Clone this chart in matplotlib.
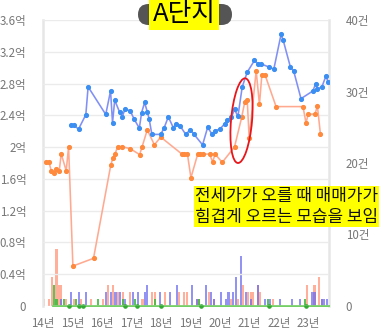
import matplotlib
matplotlib.use("Agg")
import matplotlib.pyplot as plt
import matplotlib.patches as mpatches
import matplotlib.transforms as mtransforms

plt.rcParams['font.family'] = ['Noto Sans CJK KR', 'DejaVu Sans']

# ---- data ----
sale_years = [2014.946, 2015.037, 2015.206, 2015.453, 2015.530, 2016.128, 2016.291, 2016.358,
              2016.432, 2016.601, 2016.686, 2016.780, 2016.956, 2017.091, 2017.267, 2017.345,
              2017.446, 2017.537, 2017.598, 2017.693, 2017.993, 2018.111, 2018.250, 2018.426,
              2018.503, 2018.655, 2018.841, 2018.990, 2019.125, 2019.412, 2019.584, 2019.736,
              2019.831, 2020.000, 2020.166, 2020.250, 2020.385, 2020.497, 2020.611, 2020.757,
              2020.926, 2021.172, 2021.307, 2021.389, 2021.652, 2021.828, 2022.074, 2022.149,
              2022.389, 2022.503, 2022.750, 2023.155, 2023.247, 2023.301, 2023.459, 2023.595,
              2023.672]
sale_price = [2.277, 2.277, 2.227, 2.409, 2.759, 2.411, 2.708, 2.306,
              2.591, 2.437, 2.384, 2.474, 2.459, 2.352, 2.239, 2.434,
              2.562, 2.444, 2.359, 2.160, 2.160, 2.245, 2.381, 2.239,
              2.296, 2.264, 2.160, 2.218, 2.160, 2.028, 2.249, 2.161,
              2.208, 2.226, 2.296, 2.340, 2.374, 2.474, 2.386, 2.759,
              2.943, 3.091, 3.044, 3.048, 3.010, 2.981, 3.418, 3.342,
              3.010, 2.956, 2.610, 2.707, 2.799, 2.732, 2.759, 2.893,
              2.818]

jeonse_years = [2014.118, 2014.203, 2014.280, 2014.361, 2014.449, 2014.551, 2014.618, 2014.787,
                2014.868, 2015.014, 2015.713, 2016.297, 2016.365, 2016.443, 2016.534, 2016.693,
                2016.956, 2017.277, 2017.361, 2017.537, 2017.777, 2017.993, 2018.713, 2018.797,
                2018.899, 2019.017, 2019.247, 2019.338, 2019.439, 2019.652, 2019.753, 2019.834,
                2020.081, 2020.497, 2020.740, 2020.841, 2020.926, 2020.993, 2021.230, 2021.341,
                2021.422, 2021.534, 2021.905, 2022.818, 2022.919, 2022.997, 2023.223, 2023.307,
                2023.409]
jeonse_price = [1.808, 1.808, 1.702, 1.669, 1.720, 1.702, 1.916, 1.702,
                2.004, 0.503, 0.600, 1.770, 1.858, 1.916, 2.004, 2.004,
                1.981, 1.906, 2.004, 2.218, 2.029, 2.126, 1.912, 1.912,
                1.912, 1.614, 1.912, 1.912, 1.912, 1.912, 1.811, 1.912,
                1.808, 2.004, 2.377, 2.566, 2.598, 2.110, 2.960, 2.537,
                2.906, 2.906, 2.510, 2.510, 2.306, 2.415, 2.415, 2.516,
                2.164]

# monthly transaction counts (month index from Jan 2014)
jeonse_vol_month = [0, 2, 3, 5, 6, 7, 9, 12, 15, 19, 24, 26, 28, 30, 32, 35, 40, 44, 45, 49,
                    55, 57, 58, 62, 63, 67, 69, 76, 79, 81, 83, 84, 85, 87, 88, 93, 107, 110,
                    112, 113]
jeonse_vol = [1, 1, 4, 8, 3, 3, 1, 1, 1, 1, 1, 3, 3, 2, 2, 2, 1, 2, 2, 2,
              2, 2, 2, 1, 1, 2, 1, 1, 1, 3, 2, 2, 2, 3, 2, 1, 3, 3,
              4, 1]
sale_vol_month = [7, 11, 14, 17, 25, 27, 29, 31, 33, 36, 38, 41, 42, 47, 51, 54, 60, 62, 66, 68,
                  69, 72, 74, 75, 77, 78, 80, 82, 84, 87, 90, 92, 96, 101, 104, 109, 110, 113,
                  114, 115]
sale_vol = [1, 2, 2, 2, 2, 2, 2, 2, 1, 2, 2, 2, 3, 2, 2, 3, 3, 1, 3, 2,
            1, 2, 1, 2, 2, 4, 7, 2, 1, 3, 1, 1, 1, 1, 1, 2, 2, 1,
            1, 1]
other_vol_month = [4, 5, 8, 13, 22, 32, 37, 45, 63, 91, 106]
other_vol = [3, 1, 1, 1, 1, 1, 1, 1, 1, 1, 1]
other_dot_years = [2014.87, 2015.21, 2015.35, 2016.78, 2017.18, 2018.0, 2019.35, 2021.65, 2022.92]
other_line_span = [2014.35, 2023.70]

year_ticks = list(range(2014, 2024))
year_labels = ['14년', '15년', '16년', '17년', '18년', '19년', '20년', '21년', '22년', '23년']
price_ticks = [0, 0.4, 0.8, 1.2, 1.6, 2.0, 2.4, 2.8, 3.2, 3.6]
price_labels = ['0', '0.4억', '0.8억', '1.2억', '1.6억', '2억', '2.4억', '2.8억', '3.2억', '3.6억']
count_ticks = [0, 10, 20, 30, 40]
count_labels = ['0', '10건', '20건', '30건', '40건']

title = 'A단지'
note = '전세가가 오를 때 매매가가\n힘겹게 오르는 모습을 보임'
ellipse_center = (2020.733, 2.333)

# ---- figure ----
fig = plt.figure(figsize=(3.83, 3.35), dpi=100)
W, H = 383, 335
ax = fig.add_axes([43 / W, 1 - 306 / H, 286 / W, 286 / H])   # counts (bars)
ax2 = ax.twinx()                                              # prices (lines)

def mx(m):
    return 2014 + (m + 0.5) / 12

bw = 0.07
ax.bar([mx(m) for m in jeonse_vol_month], jeonse_vol, width=bw, color='#FF9478', alpha=0.75, zorder=2)
ax.bar([mx(m) for m in sale_vol_month], sale_vol, width=bw, color='#6565F0', alpha=0.7, zorder=3)
ax.bar([mx(m) for m in other_vol_month], other_vol, width=bw, color='#3DBA3D', alpha=0.85, zorder=4)
ax.plot(other_line_span, [0, 0], color='#66CC55', lw=1.3, zorder=5, clip_on=False)
ax.plot(other_dot_years, [0] * len(other_dot_years), 'o', color='#33AA33', ms=2.3, zorder=6, clip_on=False)

ax.set_xlim(2014.0, 2023.70)
ax.set_ylim(0, 40)
ax.yaxis.tick_right()
ax.set_yticks(count_ticks)
ax.set_yticklabels(count_labels)
ax.set_xticks(year_ticks)
ax.set_xticklabels(year_labels)

ax2.plot(jeonse_years, jeonse_price, '-', color='#FFAA90', lw=1.15, zorder=3)
ax2.plot(jeonse_years, jeonse_price, 'o', color='#FF8A3D', ms=2.7, zorder=4)
ax2.plot(sale_years, sale_price, '-', color='#8090F5', lw=1.15, zorder=5)
ax2.plot(sale_years, sale_price, 'o', color='#3B8EF2', ms=2.7, zorder=6)
ax2.set_ylim(0, 3.6)
ax2.yaxis.tick_left()
ax2.set_yticks(price_ticks)
ax2.set_yticklabels(price_labels)
ax2.grid(axis='y', color='#EBEBEB', lw=1.0)
ax2.set_axisbelow(True)

for a in (ax, ax2):
    for s in a.spines.values():
        s.set_visible(False)
ax.spines['left'].set_visible(True)
ax.spines['right'].set_visible(True)
ax.spines['left'].set_color('#E6E6E6')
ax.spines['right'].set_color('#E6E6E6')
ax.spines['left'].set_linewidth(1.8)
ax.spines['right'].set_linewidth(1.8)

ax.tick_params(axis='x', length=0, pad=8, labelsize=8.3, labelcolor='#777777')
ax.tick_params(axis='y', length=0, pad=12, labelsize=8.3, labelcolor='#777777')
ax2.tick_params(axis='y', length=0, pad=12, labelsize=8.3, labelcolor='#777777')

# red ellipse (annotation), sized in inches around a data point
trans = fig.dpi_scale_trans + mtransforms.ScaledTranslation(ellipse_center[0], ellipse_center[1], ax2.transData)
ax2.add_patch(mpatches.Ellipse((0, 0), 0.21, 0.85, angle=-5, fill=False, ec='#E8161B', lw=1.3,
                               transform=trans, zorder=7, clip_on=False))

# note text
ax2.text(2019.15, 1.25, note, ha='left', va='center', fontsize=12.2, color='#111111',
         linespacing=1.2, clip_on=False, zorder=10,
         bbox=dict(boxstyle='square,pad=0.05', fc='#FFFF00', ec='none'))

# title tab
tab = mpatches.FancyBboxPatch((138, H - 25), 94, 21, boxstyle='round,pad=0,rounding_size=10.5',
                              transform=mtransforms.IdentityTransform(), fc='#555555', ec='none',
                              zorder=1)
fig.patches.append(tab)
fig.text(184 / W, 1 - 14 / H, title, ha='center', va='center', fontsize=18.5, color='#000000',
         zorder=5, bbox=dict(boxstyle='square,pad=0.12', fc='#FFFF00', ec='none'))

fig.savefig('out.png', dpi=100)
